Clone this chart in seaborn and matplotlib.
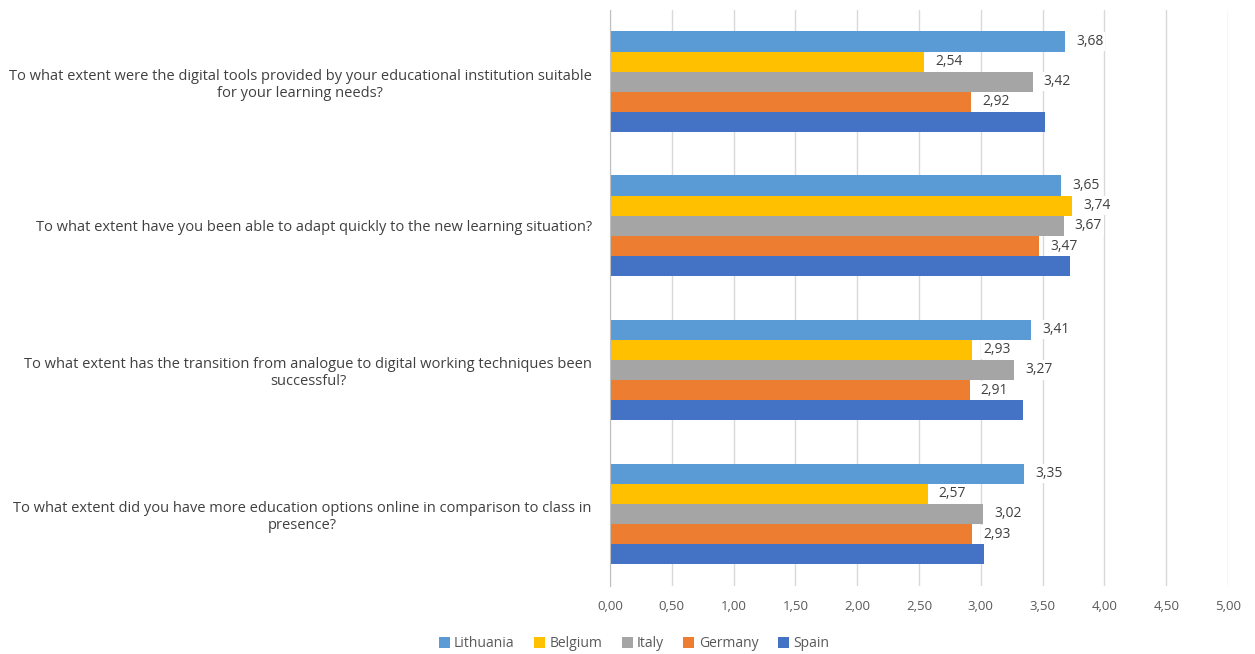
import matplotlib
matplotlib.use("Agg")
import matplotlib.pyplot as plt
import matplotlib.ticker as mticker
import seaborn as sns
import pandas as pd

questions = [
    "To what extent were the digital tools provided by your educational institution suitable\nfor your learning needs?",
    "To what extent have you been able to adapt quickly to the new learning situation?",
    "To what extent has the transition from analogue to digital working techniques been\nsuccessful?",
    "To what extent did you have more education options online in comparison to class in\npresence?",
]
countries = ["Lithuania", "Belgium", "Italy", "Germany", "Spain"]
lithuania = [3.68, 3.65, 3.41, 3.35]
belgium = [2.54, 3.74, 2.93, 2.57]
italy = [3.42, 3.67, 3.27, 3.02]
germany = [2.92, 3.47, 2.91, 2.93]
spain = [3.52, 3.72, 3.34, 3.03]
labelled = ["Lithuania", "Belgium", "Italy", "Germany"]
x_ticks = [0, 0.5, 1, 1.5, 2, 2.5, 3, 3.5, 4, 4.5, 5]

palette = {
    "Lithuania": "#5B9BD5",
    "Belgium": "#FFC000",
    "Italy": "#A5A5A5",
    "Germany": "#ED7D31",
    "Spain": "#4472C4",
}

series = [lithuania, belgium, italy, germany, spain]
rows = []
for country, vals in zip(countries, series):
    for q, v in zip(questions, vals):
        rows.append({"question": q, "country": country, "score": v})
df = pd.DataFrame(rows)

sns.set_style("white")
plt.rcParams["font.family"] = ["Open Sans", "DejaVu Sans"]

fig = plt.figure(figsize=(12.55, 6.54), dpi=100)
ax = fig.add_axes([0.486, 0.104, 0.4925, 0.881])

sns.barplot(data=df, y="question", x="score", hue="country",
            order=questions, hue_order=countries, palette=palette,
            orient="h", width=0.7, saturation=1, errorbar=None,
            linewidth=0, ax=ax)

ax.set_xlim(0, 5)
ax.set_xticks(x_ticks)
ax.xaxis.set_major_formatter(mticker.FuncFormatter(lambda v, p: f"{v:.2f}".replace(".", ",")))
ax.grid(axis="x", color="#D9D9D9", linewidth=1)
ax.set_axisbelow(True)
for s in ["top", "right", "bottom"]:
    ax.spines[s].set_visible(False)
ax.spines["left"].set_color("#BFBFBF")
ax.set_xlabel("")
ax.set_ylabel("")
ax.tick_params(axis="x", length=0, pad=10, labelsize=9.5, labelcolor="#595959")
ax.tick_params(axis="y", length=0, pad=13, labelsize=10.5, labelcolor="#404040")
for lab in ax.get_yticklabels():
    lab.set_multialignment("center")

for container, country in zip(ax.containers, countries):
    if country in labelled:
        ax.bar_label(container, labels=[f"{v:.2f}".replace(".", ",") for v in container.datavalues],
                     padding=8, fontsize=10, color="#404040",
                     bbox=dict(facecolor="white", edgecolor="none", pad=1.5))

ax.legend(ncol=5, frameon=False, fontsize=10, handlelength=0.8, handleheight=0.8,
          handletextpad=0.3, columnspacing=1.4, labelcolor="#595959",
          loc="center", bbox_to_anchor=(0.505, 0.016), bbox_transform=fig.transFigure)

fig.savefig("out.png", dpi=100)
